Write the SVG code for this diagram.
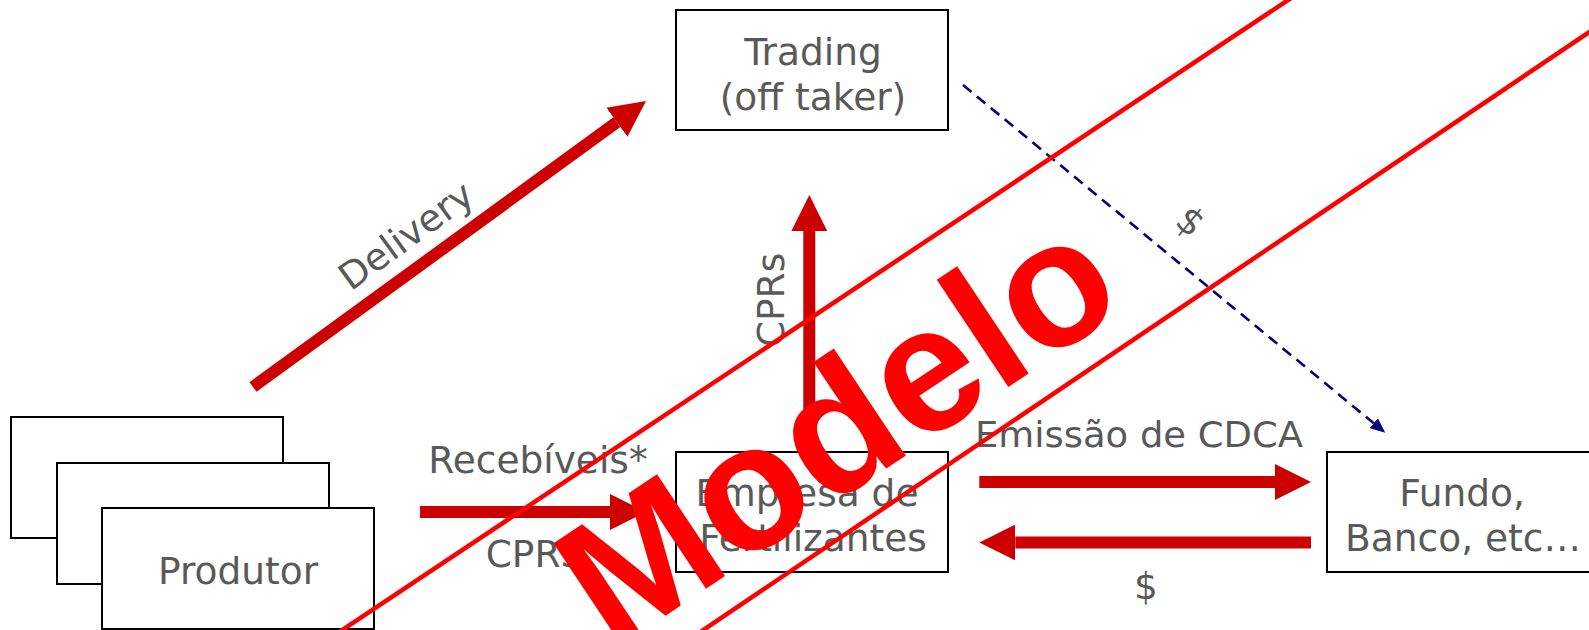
<svg xmlns="http://www.w3.org/2000/svg" width="1589" height="630" viewBox="0 0 1589 630">
  <style>
    .box { fill: #ffffff; stroke: #000000; stroke-width: 2; }
    .lbl { font-family: "DejaVu Sans", Verdana, sans-serif; font-size: 37.5px; fill: #595959; }
    .mid { text-anchor: middle; }
    .flow { stroke: #CC0000; stroke-width: 12; fill: none; stroke-linecap: butt; }
    .pay { stroke: #000080; stroke-width: 2.6; fill: none; stroke-dasharray: 11 7; }
    .stamp { stroke: #FF0000; stroke-width: 4.5; fill: none; }
    .stamptext { font-family: "Liberation Sans", Arial, sans-serif; font-weight: bold; font-size: 178px; fill: #FF0000; text-anchor: middle; }
  </style>
  <defs>
    <marker id="head" markerUnits="userSpaceOnUse" markerWidth="36" markerHeight="36" viewBox="0 0 36 36" refX="0" refY="18" orient="auto">
      <path d="M0,0 L36,18 L0,36 Z" fill="#CC0000"/>
    </marker>
    <marker id="navyHead" markerUnits="userSpaceOnUse" markerWidth="15" markerHeight="13" viewBox="0 0 15 13" refX="0" refY="6.5" orient="auto">
      <path d="M0,0 L15,6.5 L0,13 Z" fill="#000080"/>
    </marker>
  </defs>

  <!-- producers: three stacked cards -->
  <g id="produtor">
    <rect class="box" x="11" y="417" width="272" height="121"/>
    <rect class="box" x="57" y="463" width="272" height="121"/>
    <rect class="box" x="102" y="508" width="272" height="121"/>
    <text class="lbl mid" x="238" y="584">Produtor</text>
  </g>

  <g id="trading">
    <rect class="box" x="676" y="10" width="272" height="120"/>
    <text class="lbl mid" x="813" y="64.5">Trading</text>
    <text class="lbl mid" x="813" y="110">(off taker)</text>
  </g>

  <g id="empresa">
    <rect class="box" x="676" y="452" width="272" height="120"/>
    <text class="lbl mid" x="807" y="506">Empresa de</text>
    <text class="lbl mid" x="813" y="551">Fertilizantes</text>
  </g>

  <g id="fundo">
    <rect class="box" x="1327" y="452" width="272" height="120"/>
    <text class="lbl mid" x="1462" y="506">Fundo,</text>
    <text class="lbl mid" x="1463" y="551">Banco, etc…</text>
  </g>

  <!-- flows between parties -->
  <g id="connectors">
    <line class="flow" x1="253" y1="387" x2="616.9" y2="122.2" marker-end="url(#head)"/>
    <line class="flow" x1="809.3" y1="452" x2="809.3" y2="231" marker-end="url(#head)"/>
    <line class="flow" x1="420" y1="512" x2="610" y2="512" marker-end="url(#head)"/>
    <line class="flow" x1="979.3" y1="482" x2="1275" y2="482" marker-end="url(#head)"/>
    <line class="flow" x1="1311" y1="542.5" x2="1015.3" y2="542.5" marker-end="url(#head)"/>
    <line class="pay" x1="963" y1="85" x2="1373.7" y2="423.2" marker-end="url(#navyHead)"/>

    <text class="lbl mid" transform="translate(413.7,246.1) rotate(-36)">Delivery</text>
    <text class="lbl mid" transform="translate(784,300) rotate(-90)">CPRs</text>
    <text class="lbl mid" x="538" y="473">Recebíveis*</text>
    <text class="lbl mid" x="535" y="567">CPRS</text>
    <text class="lbl" x="975" y="446.7" style="font-size:36px" textLength="328" lengthAdjust="spacingAndGlyphs">Emissão de CDCA</text>
    <text class="lbl mid" x="1146" y="599">$</text>
    <text class="lbl mid" transform="translate(1182.4,231.3) rotate(39.5)">$</text>
  </g>

  <!-- sample stamp across the chart -->
  <g id="stamp">
    <line class="stamp" x1="312.2" y1="650" x2="1318.2" y2="-20"/>
    <line class="stamp" x1="673.7" y1="650" x2="1610" y2="18"/>
    <text class="stamptext" transform="translate(870.5,479) rotate(-33.7)">Modelo</text>
  </g>
</svg>
